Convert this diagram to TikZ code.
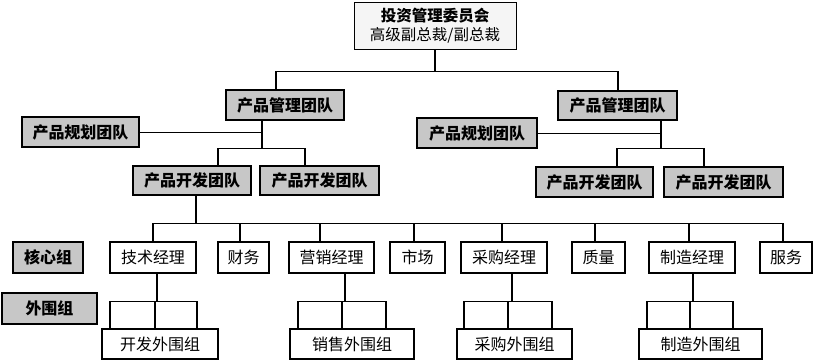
\documentclass[tikz,border=0pt]{standalone}
\usepackage{fontspec}
\setmainfont{Noto Sans CJK SC}
\begin{document}
\begin{tikzpicture}[x=1pt,y=-1pt,
  gbox/.style={draw, line width=2pt, fill=black!22, inner sep=0pt, font=\fontsize{16}{18}\selectfont\bfseries},
  wbox/.style={draw, line width=1.8pt, fill=white, inner sep=0pt, font=\fontsize{16}{18}\selectfont},
  topbox/.style={draw, line width=1pt, fill=black!4, inner sep=0pt, align=center, font=\fontsize{15.5}{19}\selectfont},
  vl/.style={line width=1.8pt},
  hl/.style={line width=0.9pt}]
\useasboundingbox (0,0) rectangle (815,360);
% top
\node[topbox, minimum width=162pt, minimum height=47pt] (top) at (435,25.5) {{\bfseries 投资管理委员会}\\高级副总裁/副总裁};
% product management level
\node[gbox, minimum width=118pt, minimum height=30pt] (pmL) at (285,105) {产品管理团队};
\node[gbox, minimum width=117pt, minimum height=30pt] (planL) at (80.5,132) {产品规划团队};
\node[gbox, minimum width=118pt, minimum height=29pt] (devL1) at (192,180.5) {产品开发团队};
\node[gbox, minimum width=119pt, minimum height=29pt] (devL2) at (319.5,180.5) {产品开发团队};
\node[gbox, minimum width=119pt, minimum height=29pt] (pmR) at (617.5,105.5) {产品管理团队};
\node[gbox, minimum width=120pt, minimum height=30pt] (planR) at (477,133) {产品规划团队};
\node[gbox, minimum width=117pt, minimum height=30pt] (devR1) at (594.5,182) {产品开发团队};
\node[gbox, minimum width=119pt, minimum height=30pt] (devR2) at (723.5,182) {产品开发团队};
% labels
\node[gbox, minimum width=70pt, minimum height=31pt] (core) at (48,257.5) {核心组};
\node[gbox, minimum width=95pt, minimum height=31pt] (outer) at (49.5,308.5) {外围组};
% core group
\node[wbox, minimum width=86pt, minimum height=31pt] (c1) at (153,257.5) {技术经理};
\node[wbox, minimum width=51pt, minimum height=31pt] (c2) at (243.5,257.5) {财务};
\node[wbox, minimum width=85pt, minimum height=31pt] (c3) at (331.5,257.5) {营销经理};
\node[wbox, minimum width=55pt, minimum height=31pt] (c4) at (417.5,257.5) {市场};
\node[wbox, minimum width=86pt, minimum height=31pt] (c5) at (504,257.5) {采购经理};
\node[wbox, minimum width=53pt, minimum height=31pt] (c6) at (598.5,257.5) {质量};
\node[wbox, minimum width=86pt, minimum height=31pt] (c7) at (692,257.5) {制造经理};
\node[wbox, minimum width=52pt, minimum height=31pt] (c8) at (786,257.5) {服务};
% outer groups
\node[wbox, minimum width=116pt, minimum height=30pt] (o1) at (160,344) {开发外围组};
\node[wbox, minimum width=124pt, minimum height=30pt] (o2) at (352,344) {销售外围组};
\node[wbox, minimum width=115pt, minimum height=30pt] (o3) at (514.5,344) {采购外围组};
\node[wbox, minimum width=123pt, minimum height=30pt] (o4) at (700.5,344) {制造外围组};
% top connectors
\coordinate (t1) at (276,71);
\coordinate (t2) at (618,71);
\draw[vl] (top.south) -- (top.south |- t1);
\draw[hl] (t1) -- (t2);
\draw[vl] (t1) -- (t1 |- pmL.north);
\draw[vl] (t2) -- (t2 |- pmR.north);
% left branch
\coordinate (lA) at (262,148);
\coordinate (lB) at (218,148);
\coordinate (lC) at (305,148);
\draw[vl] (lA |- pmL.south) -- (lA);
\draw[hl] (planL.east) -- (planL.east -| lA);
\draw[hl] (lB) -- (lC);
\draw[vl] (lB) -- (lB |- devL1.north);
\draw[vl] (lC) -- (lC |- devL2.north);
% right branch
\coordinate (rA) at (661,148);
\coordinate (rB) at (617,148);
\coordinate (rC) at (704,148);
\draw[vl] (rA |- pmR.south) -- (rA);
\draw[hl] (planR.east) -- (planR.east -| rA);
\draw[hl] (rB) -- (rC);
\draw[vl] (rB) -- (rB |- devR1.north);
\draw[vl] (rC) -- (rC |- devR2.north);
% core bus
\coordinate (cb) at (196,223);
\draw[vl] (cb |- devL1.south) -- (cb);
\foreach \i/\x in {1/153,2/240,3/320,4/414,5/502,6/595,7/689,8/783}{
  \coordinate (k\i) at (\x,223);
  \draw[vl] (k\i) -- (k\i |- c\i.north);
}
\draw[hl] (k1) -- (k8);
% outer buses
\foreach \c/\o/\d/\a/\m/\b in {c1/o1/157/110/155/197, c3/o2/345/298/342/386, c5/o3/512/464/508/552, c7/o4/693/647/690/733}{
  \coordinate (d) at (\d,301);
  \coordinate (ea) at (\a,301);
  \coordinate (em) at (\m,301);
  \coordinate (eb) at (\b,301);
  \draw[vl] (d |- \c.south) -- (d);
  \draw[hl] (ea) -- (eb);
  \draw[vl] (ea) -- (ea |- \o.north);
  \draw[vl] (em) -- (em |- \o.north);
  \draw[vl] (eb) -- (eb |- \o.north);
}
\end{tikzpicture}
\end{document}
